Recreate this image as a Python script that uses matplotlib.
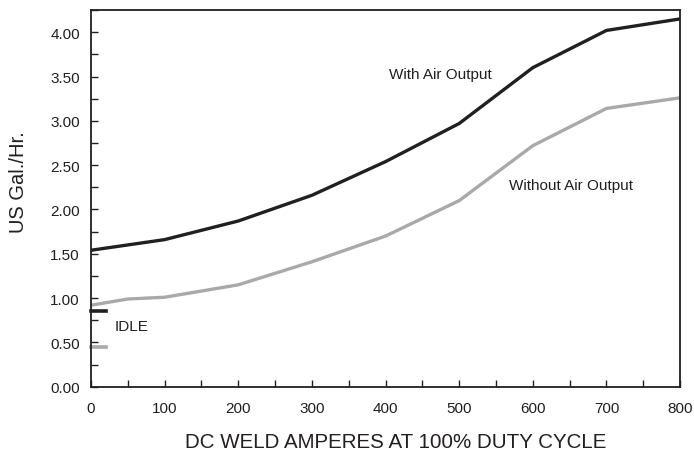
import matplotlib.pyplot as plt
from matplotlib.ticker import MultipleLocator

plt.rcParams['font.family'] = ['Liberation Sans', 'DejaVu Sans']

# Fuel consumption data
amps = [0, 50, 100, 200, 300, 400, 500, 600, 700, 800]
with_air = [1.54, 1.60, 1.66, 1.87, 2.16, 2.54, 2.97, 3.60, 4.02, 4.15]
without_air = [0.92, 0.99, 1.01, 1.15, 1.41, 1.70, 2.10, 2.72, 3.14, 3.26]

idle_amps = [0, 20]
idle_with_air = [0.85, 0.85]
idle_without_air = [0.45, 0.45]

black = '#231f20'
grey = '#a7a9ac'

fig = plt.figure(figsize=(6.94, 4.60), dpi=100)
ax = fig.add_axes([0.131, 0.157, 0.849, 0.819])

ax.plot(amps, with_air, color=black, linewidth=2.4, solid_joinstyle='miter')
ax.plot(amps, without_air, color=grey, linewidth=2.4, solid_joinstyle='miter')
ax.plot(idle_amps, idle_with_air, color=black, linewidth=2.6, clip_on=False)
ax.plot(idle_amps, idle_without_air, color=grey, linewidth=2.6, clip_on=False)

ax.text(405, 3.53, 'With Air Output', fontsize=11, va='center', color=black)
ax.text(568, 2.28, 'Without Air Output', fontsize=11, va='center', color=black)
ax.text(32, 0.69, 'IDLE', fontsize=11, va='center', color=black)

ax.set_xlim(0, 800)
ax.set_ylim(0, 4.25)
ax.xaxis.set_major_locator(MultipleLocator(100))
ax.xaxis.set_minor_locator(MultipleLocator(50))
ax.yaxis.set_major_locator(MultipleLocator(0.5))
ax.yaxis.set_minor_locator(MultipleLocator(0.25))
ax.yaxis.set_major_formatter(lambda v, p: f'{v:.2f}')

ax.tick_params(which='both', direction='in', length=5, width=1, color=black,
               labelsize=11, labelcolor=black)
ax.tick_params(axis='y', pad=8)
ax.tick_params(axis='x', pad=10)
for s in ax.spines.values():
    s.set_linewidth(1.3)
    s.set_color(black)

xl = ax.set_xlabel('DC WELD AMPERES AT 100% DUTY CYCLE', fontsize=14.8, color=black)
xl.set_va('center')
ax.xaxis.set_label_coords(0.517, -0.146)
ax.set_ylabel('US Gal./Hr.', fontsize=14.5, color=black)
ax.yaxis.set_label_coords(-0.107, 0.546)

fig.savefig('out.png', dpi=100)
